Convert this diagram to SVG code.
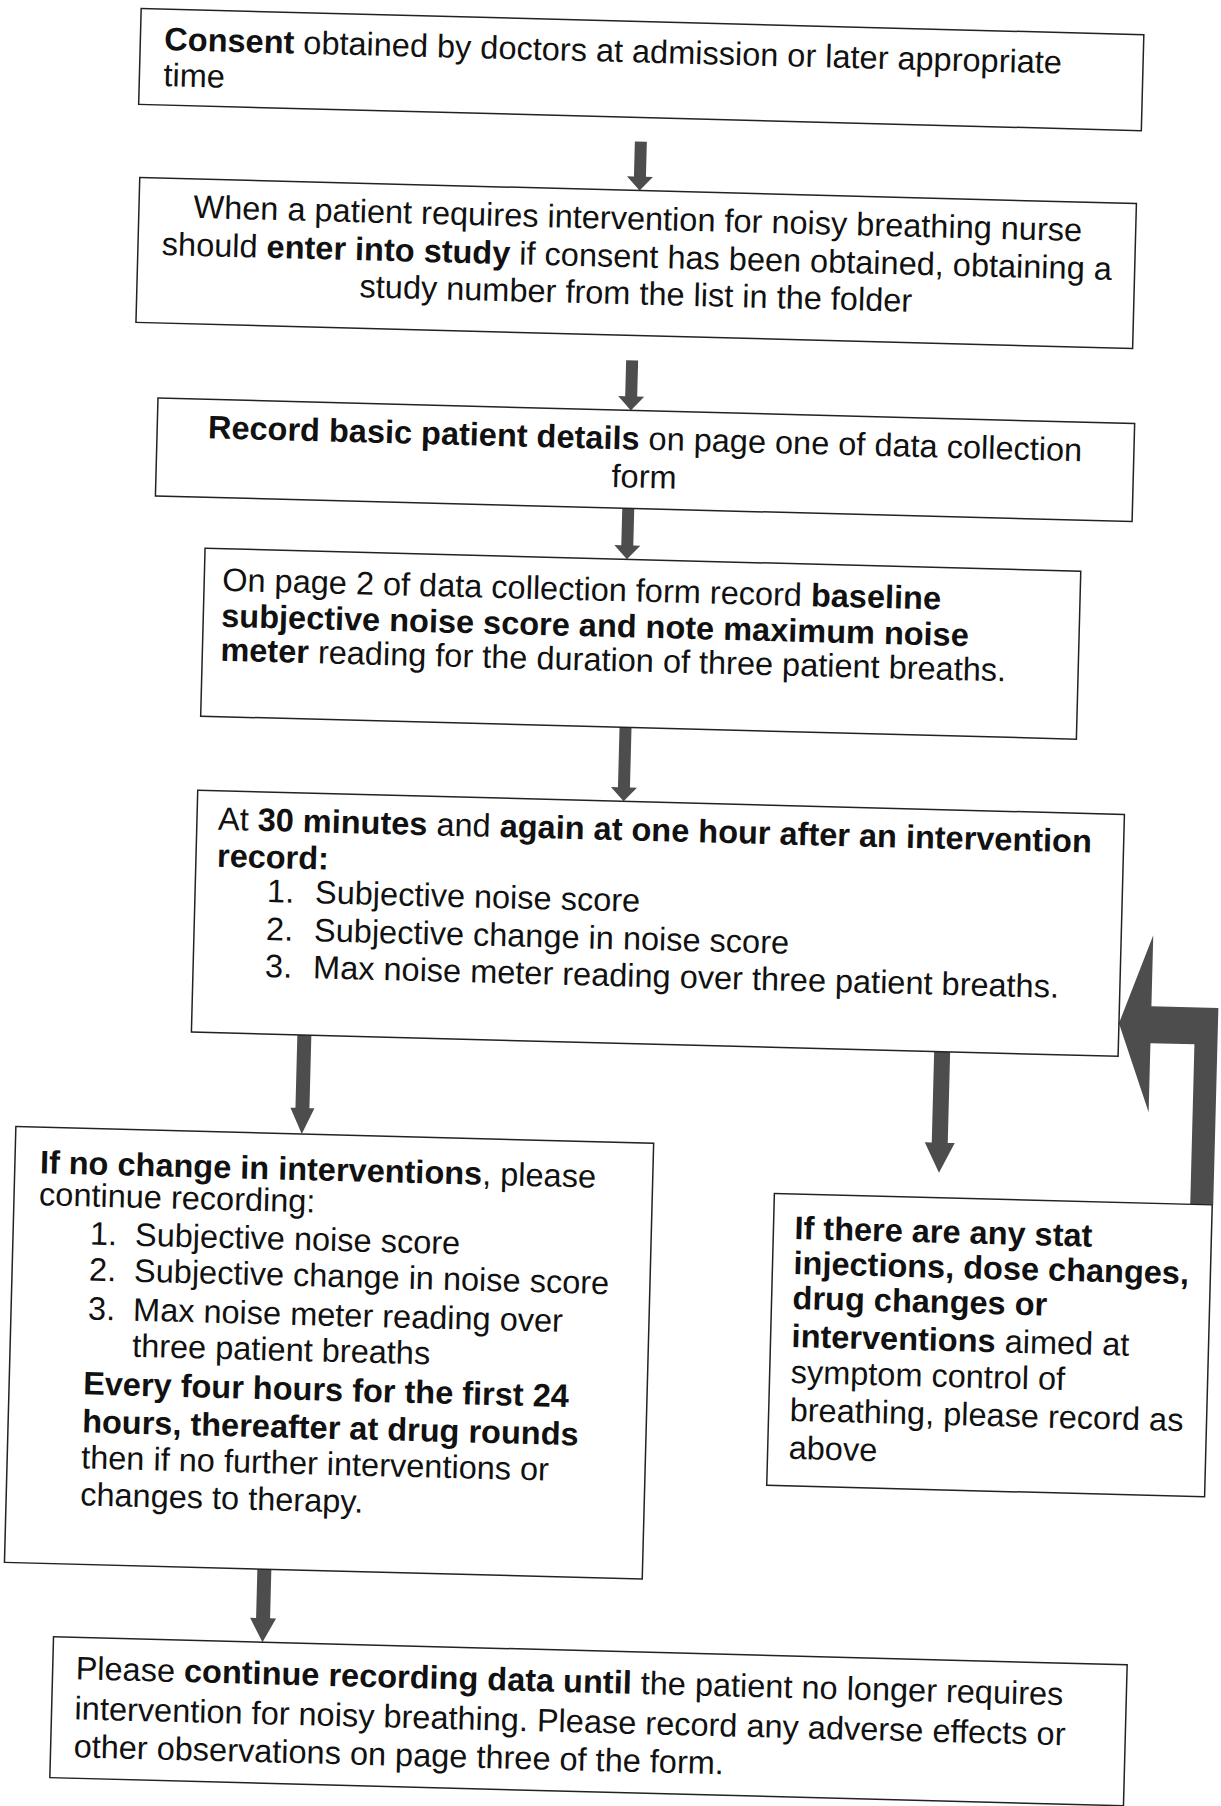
<svg xmlns="http://www.w3.org/2000/svg" width="1221" height="1806" viewBox="0 0 1221 1806">
<style>
.box{fill:#fff;stroke:#222;stroke-width:1.5}
.t{font-family:"Liberation Sans",Arial,sans-serif;font-size:32.5px;fill:#111}
.c{text-anchor:middle}
.b{font-weight:bold}
.arr{fill:#4d4d4d}
</style>
<rect width="1221" height="1806" fill="#fff"/>
<g transform="rotate(1.5 610 900)">
<g id="connectors">
<path class="arr" d="M615,141 H627 V176 H634 L621,190 L608,176 H615 Z"/>
<path class="arr" d="M612,360 H624 V396 H631 L618,410 L605,396 H612 Z"/>
<path class="arr" d="M612,508 H624 V545 H631 L618,559 L605,545 H612 Z"/>
<path class="arr" d="M615,727 H627 V787 H634 L621,801 L608,787 H615 Z"/>
<path class="arr" d="M301,1043 H315 V1116 H320 L308,1142 L296,1116 H301 Z"/>
<path class="arr" d="M938,1043 H954 V1134 H961 L946,1164 L931,1134 H938 Z"/>
<path class="arr" d="M275,1578 H289 V1627 H295 L282,1651 L269,1627 H275 Z"/>
<path class="arr" d="M1122,1010 L1154,921 V992 H1221 V1189 H1198 V1029 H1154 V1098 Z"/>
</g>
<g id="n1">
<rect class="box" x="118" y="21" width="1003" height="96"/>
<text class="t" x="142" y="62"><tspan class="b">Consent</tspan> obtained by doctors at admission or later appropriate</text>
<text class="t" x="142" y="98">time</text>
</g>
<g id="n2">
<rect class="box" x="121" y="190" width="997" height="145"/>
<text class="t c" x="620" y="229">When a patient requires intervention for noisy breathing nurse</text>
<text class="t c" x="620" y="267">should <tspan class="b">enter into study</tspan> if consent has been obtained, obtaining a</text>
<text class="t c" x="620" y="304">study number from the list in the folder</text>
</g>
<g id="n3">
<rect class="box" x="145" y="410" width="977" height="98"/>
<text class="t c" x="633" y="449"><tspan class="b">Record basic patient details</tspan> on page one of data collection</text>
<text class="t c" x="633" y="487">form</text>
</g>
<g id="n4">
<rect class="box" x="196" y="559" width="876" height="168"/>
<text class="t" x="214" y="601">On page 2 of data collection form record <tspan class="b">baseline</tspan></text>
<text class="t b" x="214" y="637">subjective noise score and note maximum noise</text>
<text class="t" x="214" y="671"><tspan class="b">meter</tspan> reading for the duration of three patient breaths.</text>
</g>
<g id="n5">
<rect class="box" x="195" y="801" width="927" height="242"/>
<text class="t" x="216" y="840">At <tspan class="b">30 minutes</tspan> and <tspan class="b">again at one hour after an intervention</tspan></text>
<text class="t b" x="216" y="877">record:</text>
<text class="t" x="267" y="911">1.</text>
<text class="t" x="315" y="911">Subjective noise score</text>
<text class="t" x="267" y="949">2.</text>
<text class="t" x="315" y="949">Subjective change in noise score</text>
<text class="t" x="267" y="986">3.</text>
<text class="t" x="315" y="986">Max noise meter reading over three patient breaths.</text>
</g>
<g id="n6">
<rect class="box" x="22" y="1142" width="638" height="436"/>
<text class="t" x="47" y="1188"><tspan class="b">If no change in interventions</tspan>, please</text>
<text class="t" x="47" y="1220">continue recording:</text>
<text class="t" x="99" y="1258">1.</text>
<text class="t" x="144" y="1258">Subjective noise score</text>
<text class="t" x="99" y="1294">2.</text>
<text class="t" x="144" y="1294">Subjective change in noise score</text>
<text class="t" x="99" y="1333">3.</text>
<text class="t" x="144" y="1333">Max noise meter reading over</text>
<text class="t" x="144" y="1369">three patient breaths</text>
<text class="t b" x="96" y="1408">Every four hours for the first 24</text>
<text class="t b" x="96" y="1446">hours, thereafter at drug rounds</text>
<text class="t" x="96" y="1482">then if no further interventions or</text>
<text class="t" x="96" y="1519">changes to therapy.</text>
</g>
<g id="n7">
<rect class="box" x="782" y="1189" width="438" height="292"/>
<text class="t b" x="803" y="1234">If there are any stat</text>
<text class="t b" x="803" y="1269">injections, dose changes,</text>
<text class="t b" x="803" y="1304">drug changes or</text>
<text class="t" x="803" y="1342"><tspan class="b">interventions</tspan> aimed at</text>
<text class="t" x="803" y="1378">symptom control of</text>
<text class="t" x="803" y="1416">breathing, please record as</text>
<text class="t" x="803" y="1454">above</text>
</g>
<g id="n8">
<rect class="box" x="73" y="1651" width="1074" height="141"/>
<text class="t" x="96" y="1693">Please <tspan class="b">continue recording data until</tspan> the patient no longer requires</text>
<text class="t" x="96" y="1733">intervention for noisy breathing. Please record any adverse effects or</text>
<text class="t" x="96" y="1771">other observations on page three of the form.</text>
</g>
</g>
</svg>
